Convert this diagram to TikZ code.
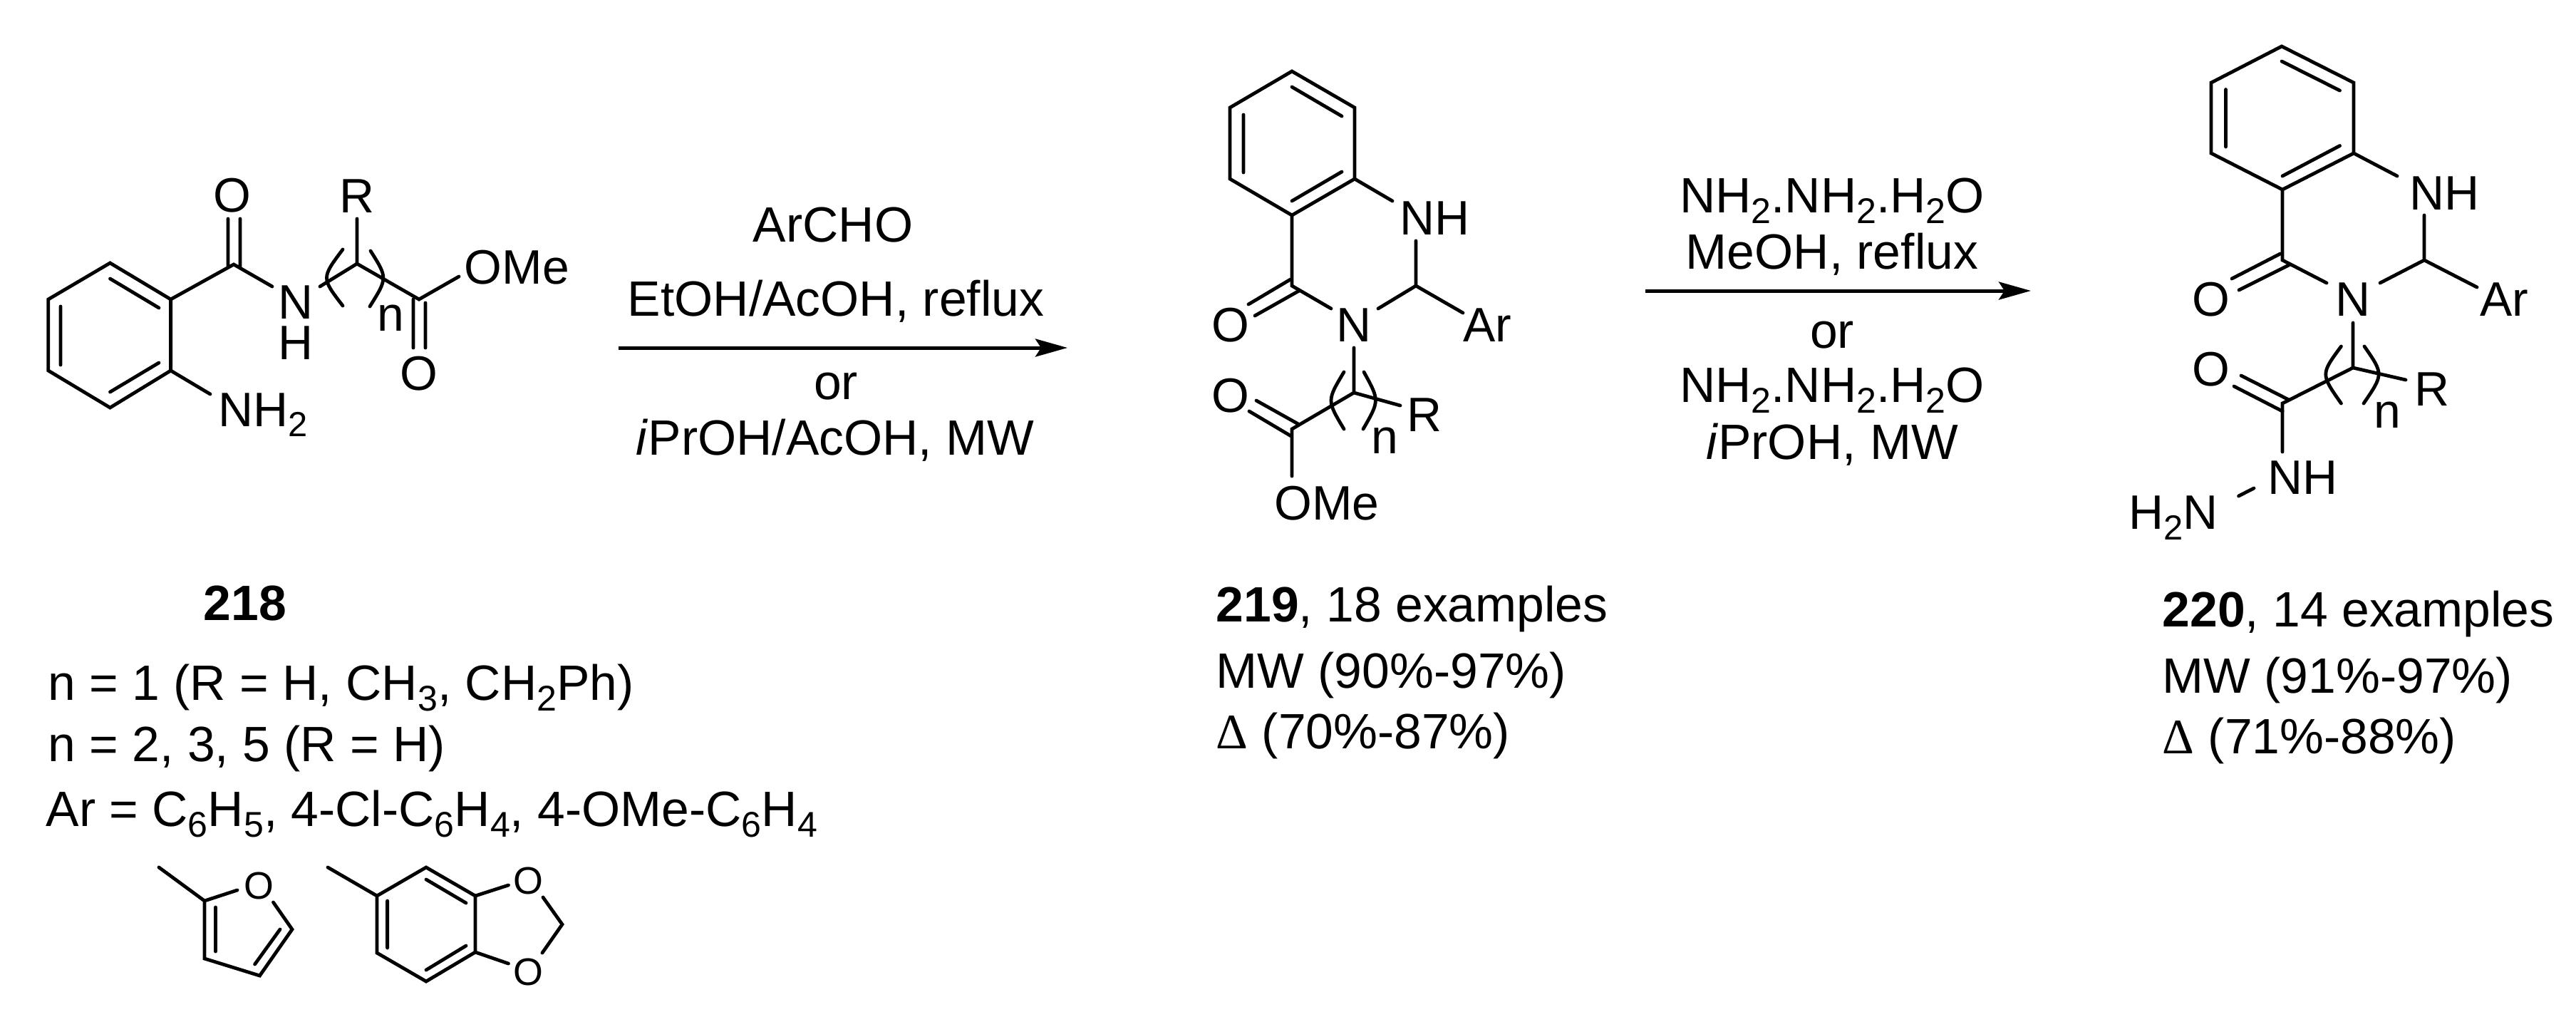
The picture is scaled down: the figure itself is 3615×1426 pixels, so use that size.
\documentclass[tikz,border=0pt]{standalone}
\usepackage{fontspec}
\setmainfont{Liberation Sans}
\newfontfamily\dlfont{Liberation Serif}
\usetikzlibrary{arrows.meta}
\newcommand\sbx[1]{\raisebox{-0.22em}{\scalebox{0.72}{#1}}}
\tikzset{
  bond/.style={line width=0.048cm,line cap=round,line join=miter},
  rxn/.style={line width=0.05cm,-{Stealth[length=0.45cm,width=0.25cm,inset=0.08cm]}},
  atom/.style={inner sep=0,anchor=base,font=\fontsize{19.3}{23}\selectfont},
  atomw/.style={atom,anchor=base west},
  small/.style={inner sep=0,anchor=base,font=\fontsize{15.3}{18}\selectfont},
  lbl/.style={inner sep=0,anchor=base,font=\fontsize{19.8}{24}\selectfont},
  lblw/.style={lbl,anchor=base west}
}
\begin{document}
\begin{tikzpicture}[x=0.01cm,y=-0.01cm]
\useasboundingbox (0,0) rectangle (3615,1426);
% ---------- 218 ----------
\draw[bond] (154.5,369)--(239.6,420)--(239.6,520)--(154.5,572)--(67.8,520)--(67.8,420)--cycle;
\draw[bond] (154.5,391)--(223,432) (85,430)--(85,512) (154.5,550)--(223,509);
\draw[bond] (239.6,420)--(328,371)--(382,402) (320,307)--(320,373) (337,307)--(337,376);
\draw[bond] (449,402)--(501,370)--(588,420)--(644,388) (501,307)--(501,370);
\draw[bond] (580,420)--(580,488) (597,425)--(597,488) (239.6,520)--(295,553);
\draw[bond] (481,350) .. controls (451,390) .. (481,429);
\draw[bond] (520,352) .. controls (544,390) .. (519,430);
\node[atom] (a1) at (326,297) {O};
\node[atom] (a2) at (415,447) {N};
\node[atom] (a3) at (415,504) {H};
\node[atom] (a4) at (501,298) {R};
\node[atomw] (a5) at (651,398) {OMe};
\node[atom] (a6) at (588,547) {O};
\node[atom] (a7) at (548.5,464) {n};
\node[atomw] (a8) at (306,598) {NH\sbx{2}};
% ---------- 219 ----------
\draw[bond] (1813,100)--(1901,151)--(1901,251)--(1813,302)--(1726,251)--(1726,151)--cycle;
\draw[bond] (1813,122)--(1883,163) (1745,161)--(1745,242) (1813,282)--(1883,241);
\draw[bond] (1901,251)--(1954,282) (1987,338)--(1987,401)--(2053,439) (1987,401)--(1934,433);
\draw[bond] (1813,302)--(1813,401)--(1868,433);
\draw[bond] (1752,427)--(1811,392) (1761,443)--(1823,408);
\draw[bond] (1900,488)--(1900,551)--(1965,569) (1900,551)--(1813,602)--(1813,668);
\draw[bond] (1763,562)--(1822,595) (1753,577)--(1812,612);
\draw[bond] (1886,522) .. controls (1862,562) .. (1886,602);
\draw[bond] (1914,522) .. controls (1936,562) .. (1913,602);
\node[atom] (b1) at (2013,329) {NH};
\node[atom] (b2) at (2087,479) {Ar};
\node[atom] (b3) at (1900,479) {N};
\node[atom] (b4) at (1727,479) {O};
\node[atom] (b5) at (1999,605) {R};
\node[atom] (b6) at (1727,578) {O};
\node[atom] (b7) at (1943,636) {n};
\node[atom] (b8) at (1862,729) {OMe};
% ---------- 220 ----------
\draw[bond] (3202,65)--(3303,116)--(3303,215)--(3203,266)--(3103,215)--(3103,116)--cycle;
\draw[bond] (3202,86)--(3283.5,127) (3123.5,125.5)--(3123.5,206) (3203,247)--(3283.5,204.5);
\draw[bond] (3303,215)--(3364,247) (3402,302)--(3402,365)--(3476,403) (3402,365)--(3340,397);
\draw[bond] (3203,266)--(3203,365)--(3265,397);
\draw[bond] (3132,391)--(3200,356) (3142,407)--(3212,372);
\draw[bond] (3302,453)--(3302,516)--(3376,533) (3302,516)--(3203,566)--(3203,634);
\draw[bond] (3145,527)--(3212,561) (3135,542)--(3203,577);
\draw[bond] (3141.5,696)--(3163,685);
\draw[bond] (3285.4,486) .. controls (3256.6,525) .. (3285.4,566);
\draw[bond] (3318,486) .. controls (3345,525) .. (3317,566);
\node[atom] (c1) at (3430,294) {NH};
\node[atom] (c2) at (3514,443) {Ar};
\node[atom] (c3) at (3302,443) {N};
\node[atom] (c4) at (3103,443) {O};
\node[atom] (c5) at (3413,569.5) {R};
\node[atom] (c6) at (3103,541) {O};
\node[atom] (c7) at (3350,600) {n};
\node[atom] (c8) at (3231,693) {NH};
\node[atomw] (c9) at (2987,742.5) {H\sbx{2}N};
% ---------- arrows ----------
\coordinate (r1s) at (868,488);
\coordinate (r1e) at (1498,488);
\coordinate (r2s) at (2309,408);
\coordinate (r2e) at (2850,408);
\draw[rxn] (r1s)--(r1e);
\draw[rxn] (r2s)--(r2e);
\node[lbl] (t1) at (1169,339) {ArCHO};
\node[lbl] (t2) at (1173,443) {EtOH/AcOH, reflux};
\node[lbl] (t3) at (1173,560) {or};
\node[lbl] (t4) at (1172,638) {\textit{i}PrOH/AcOH, MW};
\node[lbl] (u1) at (2571,298) {NH\sbx{2}.NH\sbx{2}.H\sbx{2}O};
\node[lbl] (u2) at (2571,377) {MeOH, reflux};
\node[lbl] (u3) at (2571,488) {or};
\node[lbl] (u4) at (2571,564) {NH\sbx{2}.NH\sbx{2}.H\sbx{2}O};
\node[lbl] (u5) at (2571,644) {\textit{i}PrOH, MW};
% ---------- captions ----------
\node[lbl] (l0) at (344,870) {\textbf{218}};
\node[lblw] (l1) at (67,982) {n = 1 (R = H, CH\sbx{3}, CH\sbx{2}Ph)};
\node[lblw] (l2) at (67,1068) {n = 2, 3, 5 (R = H)};
\node[lblw] (l3) at (64,1159) {Ar = C\sbx{6}H\sbx{5}, 4-Cl-C\sbx{6}H\sbx{4}, 4-OMe-C\sbx{6}H\sbx{4}};
\node[lblw] (m1) at (1706,872) {\textbf{219}, 18 examples};
\node[lblw] (m2) at (1706,965) {MW (90\%-97\%)};
\node[lblw] (m3) at (1706,1050) {{\dlfont Δ} (70\%-87\%)};
\node[lblw] (n1) at (3034,879) {\textbf{220}, 14 examples};
\node[lblw] (n2) at (3034,972) {MW (91\%-97\%)};
\node[lblw] (n3) at (3034,1057) {{\dlfont Δ} (71\%-88\%)};
% ---------- Ar groups ----------
\draw[bond] (223,1217)--(287,1264)--(333,1249) (287,1264)--(287,1345)--(364.5,1369)--(410,1304)--(383.5,1266);
\draw[bond] (302.5,1273)--(302.5,1335) (393,1304)--(357.6,1353);
\draw[bond] (529,1257)--(598,1217)--(667,1257)--(667,1336)--(598,1377)--(529,1337)--cycle;
\draw[bond] (460,1217)--(529,1257);
\draw[bond] (598,1234)--(654,1267) (543.6,1264)--(543.6,1330) (598,1361)--(654,1327);
\draw[bond] (667,1257)--(713.5,1242) (667,1336)--(713.5,1352) (762,1259)--(789,1297)--(761,1337);
\node[small] (f1) at (363,1261) {O};
\node[small] (f2) at (741,1254) {O};
\node[small] (f3) at (741,1382) {O};
\end{tikzpicture}
\end{document}
